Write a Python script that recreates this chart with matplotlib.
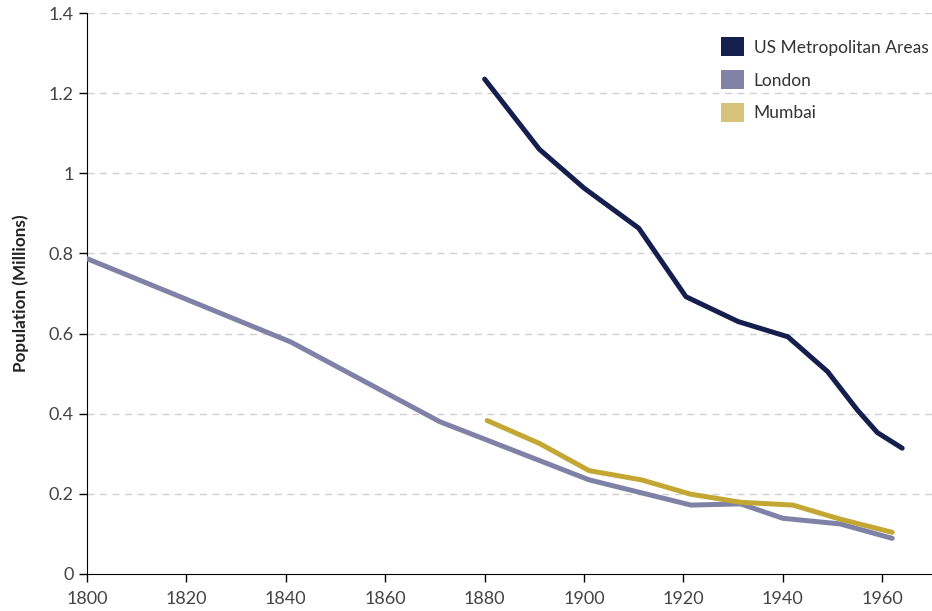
import matplotlib
matplotlib.use("Agg")
import matplotlib.pyplot as plt
from matplotlib.patches import Patch

plt.rcParams["font.family"] = ["Lato", "DejaVu Sans"]

# dados
us_anos = [1880, 1891, 1900, 1911, 1920.5, 1931, 1941, 1949, 1955, 1959, 1964]
us_pop = [1.235, 1.06, 0.963, 0.863, 0.692, 0.630, 0.592, 0.505, 0.409, 0.353, 0.314]

londres_anos = [1800, 1841, 1871, 1901, 1921.5, 1931.5, 1940, 1951.5, 1962]
londres_pop = [0.787, 0.579, 0.380, 0.235, 0.172, 0.175, 0.139, 0.125, 0.089]

mumbai_anos = [1880.5, 1891, 1901, 1911.5, 1921.5, 1931.5, 1942, 1951.5, 1962]
mumbai_pop = [0.383, 0.326, 0.258, 0.235, 0.199, 0.179, 0.172, 0.137, 0.104]

series = ["US Metropolitan Areas", "London", "Mumbai"]
cores_linha = ["#141f4e", "#7f82a6", "#c4a733"]
cores_legenda = ["#141f4e", "#8083a5", "#d6c27a"]

fig = plt.figure(figsize=(9.32, 6.11), dpi=100)
ax = fig.add_axes([87 / 932, 1 - 574 / 611, 1 - 87 / 932, (574 - 13) / 611])

for anos, pop, cor in zip([us_anos, londres_anos, mumbai_anos],
                          [us_pop, londres_pop, mumbai_pop], cores_linha):
    ax.plot(anos, pop, color=cor, lw=3.6, solid_capstyle="round",
            solid_joinstyle="round", zorder=3)

ax.set_xlim(1800, 1970)
ax.set_ylim(0, 1.4)
ax.set_xticks(range(1800, 1961, 20))
ax.set_yticks([0, 0.2, 0.4, 0.6, 0.8, 1.0, 1.2, 1.4])
ax.set_yticklabels(["0", "0.2", "0.4", "0.6", "0.8", "1", "1.2", "1.4"])

# grade tracejada
for y in [0.2, 0.4, 0.6, 0.8, 1.0, 1.2, 1.4]:
    ax.axhline(y, color="#d0d0d0", lw=1, ls=(0, (5, 4)), zorder=1)

ax.spines["top"].set_visible(False)
ax.spines["right"].set_visible(False)
ax.spines["left"].set_color("black")
ax.spines["bottom"].set_color("black")
ax.tick_params(axis="both", direction="out", length=6, width=1,
               colors="black", labelcolor="#444444", labelsize=13)
ax.tick_params(axis="x", pad=6)

ax.set_ylabel("Population (Millions)", fontsize=12.3, fontweight="bold",
              color="#222222", labelpad=14)

handles = [Patch(facecolor=c, edgecolor="none") for c in cores_legenda]
leg = ax.legend(handles, series, loc="upper right", frameon=False,
                fontsize=12.5, handlelength=1.3, handleheight=1.3,
                labelspacing=0.8, handletextpad=0.55,
                bbox_to_anchor=(1.008, 0.975), borderaxespad=0.2)
for t in leg.get_texts():
    t.set_color("#333333")

fig.savefig("out.png", dpi=100)
